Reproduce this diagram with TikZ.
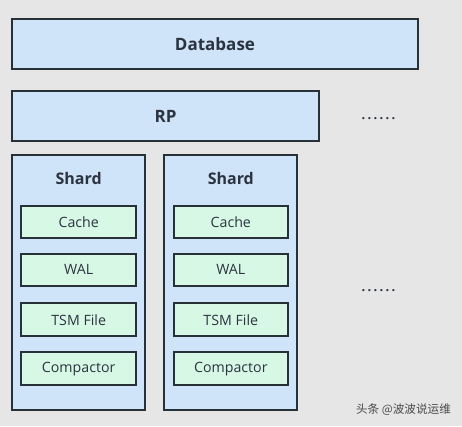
\documentclass[tikz,border=0pt]{standalone}
\usepackage{fontspec}
\setmainfont{Open Sans}
\newfontfamily\cjkfont{Noto Sans CJK SC}
\definecolor{bgc}{HTML}{E6E6E6}
\definecolor{bluef}{HTML}{CFE3F9}
\definecolor{greenf}{HTML}{D8F8E6}
\definecolor{edgec}{HTML}{263238}
\definecolor{txtc}{HTML}{2B3340}
\definecolor{wmc}{HTML}{4A4A4A}
\newcommand{\mydots}{.\kern2.3pt.\kern2.3pt.\kern2.3pt.\kern2.3pt.\kern2.3pt.}
\begin{document}
\begin{tikzpicture}[x=1pt,y=-1pt,
  bluebox/.style={draw=edgec,line width=2pt,fill=bluef,rectangle,inner sep=0pt},
  greenbox/.style={draw=edgec,line width=2pt,fill=greenf,rectangle,inner sep=0pt,text=txtc,font=\fontsize{14.2}{17}\selectfont},
  title/.style={text=txtc,font=\bfseries\fontsize{16}{19}\selectfont},
  dotsty/.style={text=txtc,font=\bfseries\fontsize{13}{15}\selectfont}]
\useasboundingbox[fill=bgc] (0,0) rectangle (462,426);
\node[bluebox,minimum width=406pt,minimum height=50pt,title,font=\bfseries\fontsize{17}{20}\selectfont] (db) at (215,44) {Database};
\node[bluebox,minimum width=307pt,minimum height=50pt,title,font=\bfseries\fontsize{17}{20}\selectfont] (rp) at (165.5,116) {RP};
\node[dotsty] (dots1) at (378.5,118.5) {\mydots};
\foreach \i/\cx in {1/78.7,2/230.8}{
  \node[bluebox,minimum width=133pt,minimum height=255.5pt] (shard\i) at (\cx,282.3) {};
  \node[title] (st\i) at (\cx,178.3) {Shard};
  \node[greenbox,minimum width=114.5pt,minimum height=32.5pt] (cache\i) at (\cx,222) {Cache};
  \node[greenbox,minimum width=114.5pt,minimum height=32.5pt] (wal\i) at (\cx,269.8) {WAL};
  \node[greenbox,minimum width=114.5pt,minimum height=32.5pt] (tsm\i) at (\cx,319.7) {TSM File};
  \node[greenbox,minimum width=114.5pt,minimum height=32.5pt] (comp\i) at (\cx,368.7) {Compactor};
}
\node[dotsty] (dots2) at (378.5,290.5) {\mydots};
\node[text=wmc,font=\cjkfont\fontsize{11.6}{13}\selectfont] (wm) at (403.5,410) {头条 @波波说运维};
\end{tikzpicture}
\end{document}
